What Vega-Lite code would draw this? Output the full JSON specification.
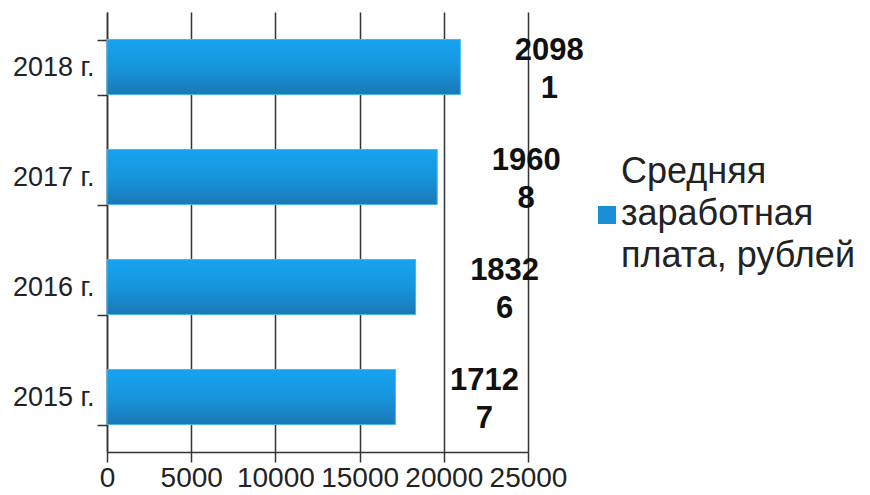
{
  "$schema": "https://vega.github.io/schema/vega-lite/v6.json",
  "width": 421,
  "height": 440,
  "autosize": {"type": "none"},
  "padding": {"left": 107, "top": 12, "right": 342, "bottom": 43},
  "background": "white",
  "config": {
    "font": "Liberation Sans",
    "view": {"stroke": null}
  },
  "data": {
    "values": [
      {"year": "2018 г.", "value": 20981, "series": "Средняя заработная плата, рублей"},
      {"year": "2017 г.", "value": 19608, "series": "Средняя заработная плата, рублей"},
      {"year": "2016 г.", "value": 18326, "series": "Средняя заработная плата, рублей"},
      {"year": "2015 г.", "value": 17127, "series": "Средняя заработная плата, рублей"}
    ]
  },
  "encoding": {
    "y": {
      "field": "year", "type": "nominal", "sort": null, "title": null,
      "scale": {"paddingInner": 0.5, "paddingOuter": 0.25},
      "axis": {
        "tickBand": "extent", "tickSize": 10, "tickColor": "#333", "tickWidth": 1.5,
        "domainColor": "#333", "domainWidth": 1.5,
        "labelFontSize": 27, "labelColor": "#222", "labelPadding": 3
      }
    },
    "x": {
      "field": "value", "type": "quantitative", "title": null,
      "scale": {"domain": [0, 25000], "nice": false},
      "axis": {
        "values": [0, 5000, 10000, 15000, 20000, 25000],
        "format": "d",
        "grid": true, "gridColor": "#333", "gridWidth": 1.5, "gridOpacity": 1,
        "tickSize": 10, "tickColor": "#333", "tickWidth": 1.5,
        "domainColor": "#333", "domainWidth": 1.5,
        "labelFontSize": 28, "labelColor": "#222", "labelPadding": 2,
        "labelFlush": false, "labelOverlap": false
      }
    }
  },
  "layer": [
    {
      "mark": {"type": "bar"},
      "encoding": {
        "color": {
          "field": "series", "type": "nominal",
          "scale": {"range": ["#1a8fd6"]},
          "legend": {
            "title": null,
            "orient": "none",
            "legendX": 482,
            "legendY": 185,
            "symbolType": "square",
            "symbolSize": 324,
            "symbolStrokeWidth": 0,
            "labelFontSize": 36,
            "labelColor": "#222",
            "labelLimit": 400,
            "labelOffset": -4,
            "labelExpr": "['Средняя', 'заработная', 'плата, рублей']",
            "encode": {
              "labels": {
                "update": {
                  "lineHeight": {"value": 42},
                  "dy": {"value": -43}
                }
              }
            }
          }
        }
      }
    },
    {
      "mark": {
        "type": "bar",
        "stroke": "#4ab6ee",
        "strokeWidth": 1,
        "fill": {
          "gradient": "linear",
          "x1": 0, "y1": 0, "x2": 0, "y2": 1,
          "stops": [
            {"offset": 0, "color": "#16a3ef"},
            {"offset": 0.5, "color": "#1795dc"},
            {"offset": 1, "color": "#1b78b6"}
          ]
        }
      }
    },
    {
      "transform": [
        {"calculate": "substring(toString(datum.value), 0, 4) + '\\n' + substring(toString(datum.value), 4)", "as": "label"}
      ],
      "mark": {
        "type": "text", "align": "center", "baseline": "middle",
        "dx": 89, "dy": -16, "fontSize": 31, "fontWeight": "bold",
        "color": "#111", "lineBreak": "\n", "lineHeight": 38
      },
      "encoding": {
        "text": {"field": "label"}
      }
    }
  ]
}
